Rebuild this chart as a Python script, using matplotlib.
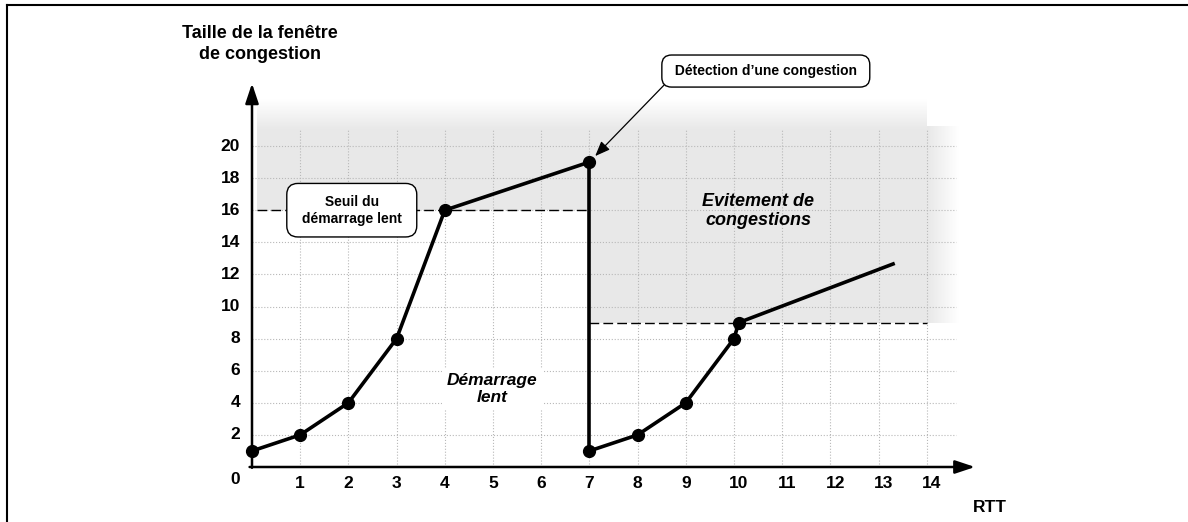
import numpy as np
import matplotlib
matplotlib.use("Agg")
import matplotlib.pyplot as plt
from matplotlib.lines import Line2D

plt.rcParams['font.family'] = ['Liberation Sans', 'DejaVu Sans']

# data
rtt_1 = [0, 1, 2, 3, 4, 7]
cwnd_1 = [1, 2, 4, 8, 16, 19]
rtt_drop = [7, 7]
cwnd_drop = [19, 1]
rtt_2 = [7, 8, 9, 10, 10.1]
cwnd_2 = [1, 2, 4, 8, 9]
rtt_lin = [10.1, 13.3]
cwnd_lin = [9, 12.65]
seuil_1 = 16
seuil_2 = 9
x_ticks = list(range(1, 15))
y_ticks = list(range(2, 21, 2))

grey = (0.91, 0.91, 0.91)

fig = plt.figure(figsize=(11.88, 5.22), dpi=100)
ax = fig.add_axes([0, 0, 1, 1])
ax.axis('off')

# shaded zones
ax.fill_between([0.1, 7], seuil_1, 21, color=grey, lw=0, zorder=0)
ax.fill_between([7, 14], seuil_2, 21, color=grey, lw=0, zorder=0)
grad = np.zeros((50, 2, 4))
grad[..., :3] = grey
grad[..., 3] = np.linspace(0, 1, 50)[:, None]
ax.imshow(grad, extent=(0.1, 14, 21, 22.9), origin='upper', aspect='auto',
          interpolation='bilinear', zorder=0)
grad2 = np.zeros((2, 50, 4))
grad2[..., :3] = grey
grad2[..., 3] = np.linspace(1, 0, 50)[None, :]
ax.imshow(grad2, extent=(14, 14.65, seuil_2, 21.25), aspect='auto',
          interpolation='bilinear', zorder=0)

# grid
for x in x_ticks:
    ax.plot([x, x], [0, 21], ls=':', color='#b8b8b8', lw=0.8, zorder=1)
for y in y_ticks:
    ax.plot([0, 14.6], [y, y], ls=':', color='#b8b8b8', lw=0.8, zorder=1)

# thresholds
ax.plot([0.1, 7], [seuil_1, seuil_1], color='black', lw=1, ls=(0, (7, 3)), zorder=2)
ax.plot([7, 14], [seuil_2, seuil_2], color='black', lw=1, ls=(0, (7, 3)), zorder=2)

# curves
ax.plot(rtt_1, cwnd_1, color='black', lw=2.6, marker='o', ms=8.5, zorder=4)
ax.plot(rtt_drop, cwnd_drop, color='black', lw=2.6, zorder=4)
ax.plot(rtt_2, cwnd_2, color='black', lw=2.6, marker='o', ms=8.5, zorder=4)
ax.plot(rtt_lin, cwnd_lin, color='black', lw=2.6, zorder=4)

# axes with arrows
arr = dict(arrowstyle='-|>,head_length=0.6,head_width=0.2', lw=1.8,
           color='black', mutation_scale=20, shrinkA=0, shrinkB=0)
ax.annotate('', xy=(0, 23.9), xytext=(0, -0.05), arrowprops=arr, zorder=5)
ax.annotate('', xy=(15.0, 0), xytext=(-0.05, 0), arrowprops=arr, zorder=5)

for x in x_ticks:
    ax.text(x + (0.1 if x >= 10 else 0), -1.05, str(x), ha='center', va='center',
            fontsize=12.5, fontweight='bold')
for y in y_ticks:
    ax.text(-0.25, y, str(y), ha='right', va='center', fontsize=12.5, fontweight='bold')
ax.text(-0.25, -0.8, '0', ha='right', va='center', fontsize=12.5, fontweight='bold')
ax.text(15.31, -2.55, 'RTT', ha='center', va='center', fontsize=12.5, fontweight='bold')
ax.text(0.17, 26.35, 'Taille de la fenêtre\nde congestion', ha='center', va='center',
        fontsize=13, fontweight='bold', linespacing=1.3)

# zone labels
ax.text(4.98, 4.86, 'Démarrage\nlent', ha='center', va='center', fontsize=12.5,
        fontweight='bold', style='italic', linespacing=1.1, zorder=3,
        bbox=dict(boxstyle='square,pad=0.3', fc='white', ec='none'))
ax.text(10.5, 15.95, 'Evitement de\ncongestions', ha='center', va='center',
        fontsize=13, fontweight='bold', style='italic', linespacing=1.1, zorder=3)

# callout boxes
ax.text(2.07, 16.0, ' Seuil du \n démarrage lent ', ha='center', va='center',
        fontsize=10, fontweight='bold', linespacing=1.3, zorder=6,
        bbox=dict(boxstyle='round,pad=0.8,rounding_size=0.8', fc='white', ec='black', lw=1))
ax.annotate(' Détection d\u2019une congestion ', xy=(7, 19), xytext=(10.66, 24.67),
            ha='center', va='center', fontsize=10, fontweight='bold', zorder=6,
            bbox=dict(boxstyle='round,pad=0.65,rounding_size=0.7', fc='white', ec='black', lw=1),
            arrowprops=dict(arrowstyle='-|>,head_length=0.5,head_width=0.2', lw=0.9,
                            color='black', mutation_scale=18, shrinkA=0, shrinkB=6,
                            relpos=(0.0, 0.0)))

ax.set_xlim(-252 / 48.2, (1188 - 252) / 48.2)
ax.set_ylim((467 - 522) / 16.05, 467 / 16.05)

# page frame (left and top)
fig.add_artist(Line2D([7 / 1188, 7 / 1188], [0, 1 - 5 / 522], color='black', lw=1.5,
                      transform=fig.transFigure))
fig.add_artist(Line2D([7 / 1188, 1], [1 - 5 / 522, 1 - 5 / 522], color='black', lw=1.5,
                      transform=fig.transFigure))

fig.savefig('out.png', dpi=100)
